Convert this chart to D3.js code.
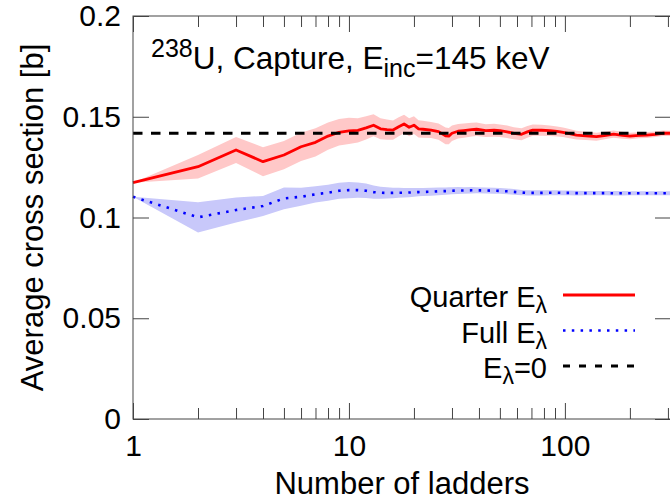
<!DOCTYPE html>
<html>
<head>
<meta charset="utf-8">
<script src="https://cdn.jsdelivr.net/npm/d3@7"></script>
<style>
  html, body { margin: 0; padding: 0; background: #fff; }
  svg { display: block; font-family: "Liberation Sans", Arial, Helvetica, sans-serif; }
</style>
</head>
<body>
<svg id="chart" width="670" height="502"></svg>
<script>
// ---------------- data ----------------
const ladders = [1,2,3,4,5,6,7,8,9,10,11,12,13,14,15,16,17,18,19,20,21,22,24,26,28,29,30,32,34,37,39,43,47,50,54,58,63,67,71,78,85,92,98,105,113,125,140,155,168,185,200,220,240,262,284,310];

const quarter = [0.1173,0.1252,0.1335,0.1277,0.1310,0.1351,0.1373,0.1404,0.1423,0.1430,
  0.1432,0.1445,0.1458,0.1440,0.1436,0.1434,0.1450,0.1464,0.1448,0.1458,
  0.1440,0.1438,0.1434,0.1426,0.1405,0.1404,0.1418,0.1428,0.1431,0.1436,
  0.1438,0.1431,0.1433,0.1431,0.1425,0.1418,0.1413,0.1425,0.1434,0.1433,
  0.1431,0.1427,0.1423,0.1416,0.1409,0.1405,0.1401,0.1408,0.1414,0.1408,
  0.1404,0.1408,0.1409,0.1413,0.1418,0.1418];

const quarterErr = [0,0.0058,0.0065,0.0072,0.0070,0.0070,0.0070,0.0068,0.0066,0.0065,
  0.0060,0.0058,0.0055,0.0052,0.0050,0.0048,0.0047,0.0046,0.0045,0.0044,
  0.0043,0.0042,0.0040,0.0040,0.0042,0.0040,0.0038,0.0036,0.0035,0.0034,
  0.0033,0.0032,0.0032,0.0031,0.0031,0.0030,0.0030,0.0029,0.0028,0.0027,
  0.0026,0.0025,0.0024,0.0023,0.0022,0.0021,0.0020,0.0019,0.0018,0.0017,
  0.0016,0.0015,0.0015,0.0014,0.0014,0.0013];

const full = [0.1103,0.1001,0.1037,0.1057,0.1095,0.1103,0.1115,0.1123,0.1133,0.1136,
  0.1136,0.1133,0.1126,0.1123,0.1122,0.1122,0.1123,0.1123,0.1124,0.1125,
  0.1126,0.1127,0.1128,0.1130,0.1131,0.1132,0.1133,0.1134,0.1134,0.1135,
  0.1135,0.1134,0.1133,0.1132,0.1130,0.1127,0.1124,0.1122,0.1122,0.1122,
  0.1123,0.1123,0.1122,0.1122,0.1121,0.1121,0.1121,0.1121,0.1120,0.1120,
  0.1120,0.1120,0.1120,0.1120,0.1120,0.1120];

const fullErr = [0,0.0075,0.0062,0.0050,0.0054,0.0045,0.0040,0.0040,0.0040,0.0040,
  0.0038,0.0036,0.0033,0.0030,0.0028,0.0026,0.0025,0.0024,0.0023,0.0022,
  0.0021,0.0020,0.0020,0.0019,0.0018,0.0018,0.0017,0.0017,0.0016,0.0016,
  0.0015,0.0015,0.0015,0.0014,0.0014,0.0014,0.0013,0.0013,0.0013,0.0013,
  0.0012,0.0012,0.0012,0.0012,0.0012,0.0011,0.0011,0.0011,0.0011,0.0011,
  0.0010,0.0010,0.0010,0.0010,0.0010,0.0010];

const zeroWidth = 0.1418;               // E_lambda = 0 reference value
const xDomain = [1, 310];
const yDomain = [0, 0.2];
const xMajorTicks = [1, 10, 100];
const xMajorLabels = ["1", "10", "100"];
const xMinorTicks = [2,3,4,5,6,7,8,9,20,30,40,50,60,70,80,90,200,300];
const yTicks = [0, 0.05, 0.1, 0.15, 0.2];
const yTickLabels = ["0", "0.05", "0.1", "0.15", "0.2"];

// ---------------- layout ----------------
const L = 133, R = 671, T = 16, B = 419;
const svg = d3.select("#chart");
const x = d3.scaleLog().domain(xDomain).range([L, R]);
const y = d3.scaleLinear().domain(yDomain).range([B, T]);

const rows = ladders.map((n, i) => ({n, q: quarter[i], qe: quarterErr[i], f: full[i], fe: fullErr[i]}));

const plot = svg.append("g");

// bands
plot.append("path").datum(rows)
  .attr("fill", "#ffc8c8")
  .attr("d", d3.area().x(d => x(d.n)).y0(d => y(d.q - d.qe)).y1(d => y(d.q + d.qe)));
plot.append("path").datum(rows)
  .attr("fill", "#c8c8fa")
  .attr("d", d3.area().x(d => x(d.n)).y0(d => y(d.f - d.fe)).y1(d => y(d.f + d.fe)));

// lines
plot.append("path").datum(rows)
  .attr("fill", "none").attr("stroke", "#ff0000").attr("stroke-width", 2.8)
  .attr("stroke-linejoin", "round")
  .attr("d", d3.line().x(d => x(d.n)).y(d => y(d.q)));
plot.append("path").datum(rows)
  .attr("fill", "none").attr("stroke", "#0000ff").attr("stroke-width", 2.6)
  .attr("stroke-dasharray", "2.5,6.3")
  .attr("d", d3.line().x(d => x(d.n)).y(d => y(d.f)));
plot.append("path").datum(xDomain)
  .attr("fill", "none").attr("stroke", "#000").attr("stroke-width", 2.8)
  .attr("stroke-dasharray", "9.5,8.5")
  .attr("d", d3.line().x(d => x(d)).y(() => y(zeroWidth)));

// ---------------- axes ----------------
const axisColor = "#444";
function styleAxis(g) {
  g.select(".domain").remove();
  g.selectAll(".tick line").attr("stroke", axisColor).attr("stroke-width", 1);
  g.selectAll(".tick text").attr("fill", "#000").attr("font-size", 30)
    .attr("font-family", "'Liberation Sans', Arial, Helvetica, sans-serif");
}

// bottom major
svg.append("g").attr("transform", `translate(0,${B})`)
  .call(d3.axisBottom(x).tickValues(xMajorTicks).tickFormat((d, i) => xMajorLabels[i])
    .tickSizeInner(-16).tickSizeOuter(0).tickPadding(16))
  .call(styleAxis);
// bottom minor
svg.append("g").attr("transform", `translate(0,${B})`)
  .call(d3.axisBottom(x).tickValues(xMinorTicks).tickFormat("")
    .tickSizeInner(-11).tickSizeOuter(0))
  .call(styleAxis);
// top major/minor
svg.append("g").attr("transform", `translate(0,${T})`)
  .call(d3.axisTop(x).tickValues(xMajorTicks).tickFormat("").tickSizeInner(-16).tickSizeOuter(0))
  .call(styleAxis);
svg.append("g").attr("transform", `translate(0,${T})`)
  .call(d3.axisTop(x).tickValues(xMinorTicks).tickFormat("").tickSizeInner(-11).tickSizeOuter(0))
  .call(styleAxis);
// left
svg.append("g").attr("transform", `translate(${L},0)`)
  .call(d3.axisLeft(y).tickValues(yTicks).tickFormat((d, i) => yTickLabels[i])
    .tickSizeInner(-16).tickSizeOuter(0).tickPadding(12))
  .call(styleAxis);
// right
svg.append("g").attr("transform", `translate(${R},0)`)
  .call(d3.axisRight(y).tickValues(yTicks).tickFormat("").tickSizeInner(-16).tickSizeOuter(0))
  .call(styleAxis);

// frame
svg.append("rect").attr("x", L).attr("y", T).attr("width", R - L).attr("height", B - T)
  .attr("fill", "none").attr("stroke", axisColor).attr("stroke-width", 1);

// axis titles
svg.append("text")
  .attr("transform", `translate(43,${(T + B) / 2}) rotate(-90)`)
  .attr("text-anchor", "middle").attr("font-size", 31)
  .text("Average cross section [b]");
svg.append("text")
  .attr("x", (L + R) / 2).attr("y", 494)
  .attr("text-anchor", "middle").attr("font-size", 31)
  .text("Number of ladders");

// annotation
const ann = svg.append("text").attr("x", 151).attr("y", 69).attr("font-size", 31.5);
ann.append("tspan").attr("font-size", 25).attr("dy", -12.5).text("238");
ann.append("tspan").attr("dy", 12.5).text("U, Capture, E");
ann.append("tspan").attr("font-size", 25).attr("dy", 8).text("inc");
ann.append("tspan").attr("dy", -8).text("=145 keV");

// legend
const legendItems = [
  {main: "Quarter E", sub: "λ", tail: "", color: "#ff0000", dash: null, width: 2.8},
  {main: "Full E", sub: "λ", tail: "", color: "#0000ff", dash: "2.5,6.3", width: 2.6},
  {main: "E", sub: "λ", tail: "=0", color: "#000", dash: "7,9", width: 2.8}
];
legendItems.forEach((it, i) => {
  const yy = 295 + i * 35.5;
  const t = svg.append("text").attr("x", 547).attr("y", yy + 12)
    .attr("text-anchor", "end").attr("font-size", 29);
  t.append("tspan").text(it.main);
  t.append("tspan").attr("font-size", 23).attr("dy", 6).text(it.sub);
  if (it.tail) t.append("tspan").attr("dy", -6).text(it.tail);
  svg.append("line").attr("x1", 563).attr("x2", 635).attr("y1", yy).attr("y2", yy)
    .attr("stroke", it.color).attr("stroke-width", it.width)
    .attr("stroke-dasharray", it.dash);
});
</script>
</body>
</html>
